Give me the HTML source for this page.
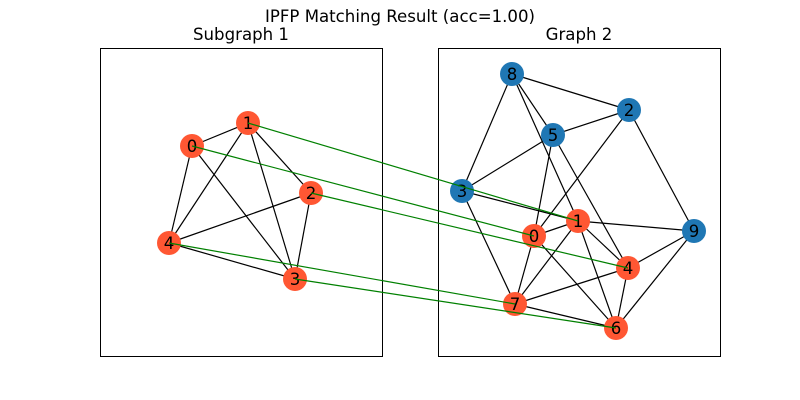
<!DOCTYPE html>
<html><head><meta charset="utf-8"><style>
body{margin:0;background:#fff;}
svg{display:block;font-family:"DejaVu Sans","Liberation Sans",sans-serif;}
</style></head><body>
<svg id="c" width="800" height="400">
<rect width="800" height="400" fill="#fff"/>
<text x="400" y="22" font-size="16.6" text-anchor="middle">IPFP Matching Result (acc=1.00)</text>
<text x="241" y="40" font-size="16.6" text-anchor="middle">Subgraph 1</text>
<text x="579" y="40" font-size="16.6" text-anchor="middle">Graph 2</text>
<rect x="100.5" y="48.5" width="282" height="308" fill="none" stroke="#000"/>
<rect x="438.5" y="48.5" width="282" height="308" fill="none" stroke="#000"/>
<g id="g"></g>
</svg>
<script>
const leftNodes=[[0,192,146],[1,248,123],[2,311,193],[3,295,279],[4,169,243]];
const leftEdges=[[0,1],[0,4],[0,3],[1,4],[1,3],[1,2],[2,4],[2,3],[4,3]];
const rightNodes=[[8,512,74],[2,629,110],[5,553,135],[3,462,191],[1,578,221],[0,534,236],[9,694,231],[4,628,268],[7,515,304],[6,616,328]];
const rightEdges=[[8,2],[8,3],[8,5],[8,1],[5,2],[5,3],[5,0],[5,4],[2,0],[2,9],[3,1],[3,7],[1,0],[1,9],[1,4],[1,7],[1,6],[0,7],[0,6],[4,9],[4,7],[4,6],[9,6],[7,6]];
const matched=[0,1,4,6,7];
const matches=[[0,0],[1,1],[2,4],[3,6],[4,7]];
const NS='http://www.w3.org/2000/svg';
const g=document.getElementById('g');
function mk(t,a){const e=document.createElementNS(NS,t);for(const k in a)e.setAttribute(k,a[k]);g.appendChild(e);return e;}
const L={},R={};leftNodes.forEach(n=>L[n[0]]=n);rightNodes.forEach(n=>R[n[0]]=n);
function edges(list,M,nm){list.forEach(([a,b])=>{const e=mk('line',{x1:M[a][1],y1:M[a][2],x2:M[b][1],y2:M[b][2],stroke:'#000','stroke-width':1.2});

});}
edges(leftEdges,L,'left');edges(rightEdges,R,'right');
function nodes(list,side,isMatched){list.forEach(([id,x,y])=>{const c=mk('circle',{cx:x,cy:y,r:12,fill:isMatched(id)?'#ff5733':'#1f77b4'});


const t=mk('text',{x:x,y:y+6,'font-size':16.6,'text-anchor':'middle',fill:'#000'});t.textContent=id;

});}
nodes(leftNodes,'left',()=>true);
nodes(rightNodes,'right',id=>matched.includes(id));
matches.forEach(([a,b])=>{const e=mk('line',{x1:L[a][1],y1:L[a][2],x2:R[b][1],y2:R[b][2],stroke:'green','stroke-width':1.2});

});
</script>
</body></html>
